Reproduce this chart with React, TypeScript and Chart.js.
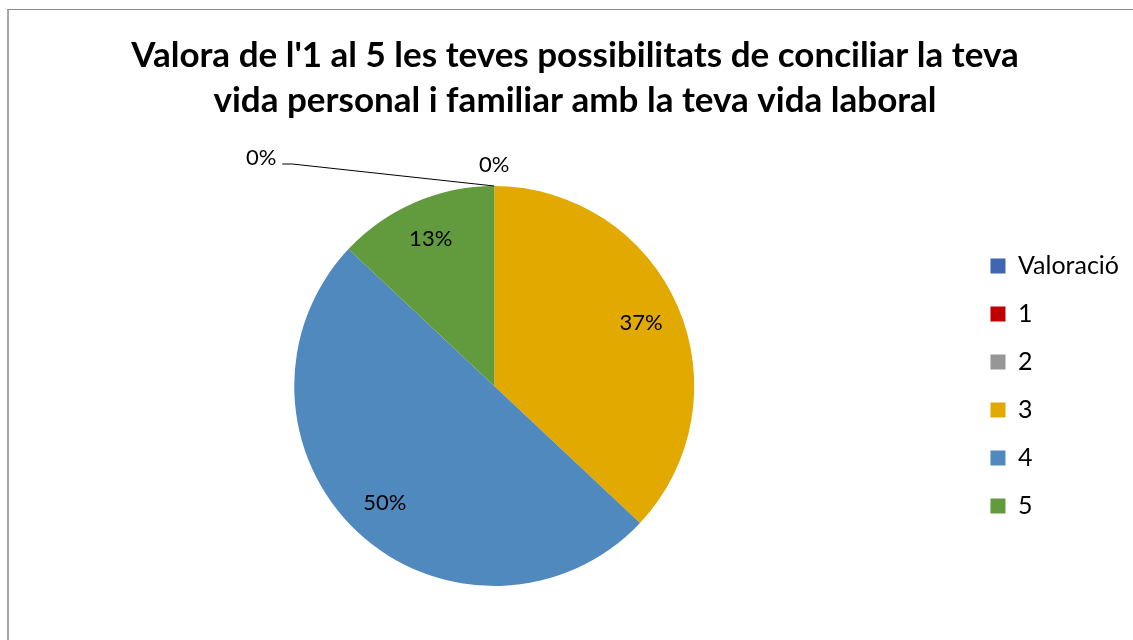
import React, { useEffect, useRef } from 'react';
import { Chart, registerables } from 'chart.js';

Chart.register(...registerables);

const TITLE_LINES = [
  "Valora de l'1 al 5 les teves possibilitats de conciliar la teva",
  'vida personal i familiar amb la teva vida laboral',
];
const CATEGORIES = ['Valoració', '1', '2', '3', '4', '5'];
const VALUES: (number | null)[] = [null, 0, 0, 37, 50, 13];
const COLORS = ['#3F66B0', '#C00000', '#969696', '#E2A900', '#4F89BD', '#629A3E'];

const FONT = 'Lato, "Open Sans", sans-serif';

const sliceLabels = {
  id: 'sliceLabels',
  afterDatasetsDraw(chart: any) {
    const meta = chart.getDatasetMeta(0);
    const data = chart.data.datasets[0].data as (number | null)[];
    const total = data.reduce((s: number, v) => s + (v ?? 0), 0);
    const ctx = chart.ctx as CanvasRenderingContext2D;
    ctx.save();
    ctx.font = `22px ${FONT}`;
    ctx.fillStyle = '#000';
    ctx.textAlign = 'center';
    ctx.textBaseline = 'middle';
    let zeroCount = 0;
    meta.data.forEach((arc: any, i: number) => {
      const v = data[i];
      if (v === null || v === undefined) return;
      const { x, y, startAngle, endAngle, outerRadius } = arc.getProps(
        ['x', 'y', 'startAngle', 'endAngle', 'outerRadius'],
        true
      );
      const txt = Math.round((v / total) * 100) + '%';
      if (v > 0) {
        const mid = (startAngle + endAngle) / 2;
        const d = outerRadius * 0.8;
        ctx.fillText(txt, x + Math.cos(mid) * d, y + Math.sin(mid) * d);
      } else {
        const top = y - outerRadius;
        if (zeroCount === 0) {
          ctx.fillText(txt, x, top - 21);
        } else {
          ctx.beginPath();
          ctx.moveTo(x, top);
          ctx.lineTo(x - 202, top - 22);
          ctx.lineTo(x - 212, top - 22);
          ctx.strokeStyle = '#000';
          ctx.lineWidth = 1;
          ctx.stroke();
          ctx.fillText(txt, x - 233, top - 28);
        }
        zeroCount++;
      }
    });
    ctx.restore();
  },
};

export default function App() {
  const ref = useRef<HTMLCanvasElement | null>(null);

  useEffect(() => {
    if (!ref.current) return;
    Chart.defaults.font.family = FONT;
    Chart.defaults.color = '#000';
    const chart = new Chart(ref.current, {
      type: 'pie',
      data: {
        labels: CATEGORIES,
        datasets: [
          {
            data: VALUES as any,
            backgroundColor: COLORS,
            borderWidth: 0,
          },
        ],
      },
      options: {
        responsive: false,
        animation: false,
        devicePixelRatio: 1,
        layout: { padding: { left: 11, right: 17, top: 0, bottom: 74 } },
        plugins: {
          title: {
            display: true,
            text: TITLE_LINES,
            color: '#000',
            font: { family: FONT, size: 35, weight: 'bold', lineHeight: 45 / 35 },
            padding: { top: 23, bottom: 63 },
          },
          legend: {
            position: 'right',
            fullSize: false,
            labels: {
              boxWidth: 15,
              boxHeight: 15,
              padding: 23,
              color: '#000',
              font: { family: FONT, size: 25 },
            },
          },
          tooltip: { enabled: false },
        },
      },
      plugins: [sliceLabels],
    });
    return () => chart.destroy();
  }, []);

  return (
    <div
      style={{
        position: 'fixed',
        left: 0,
        top: 0,
        width: 1133,
        height: 640,
        overflow: 'hidden',
        background: '#fff',
      }}
    >
      <div
        style={{
          position: 'absolute',
          left: 7,
          top: 9,
          width: 1200,
          height: 700,
          borderLeft: '2px solid #a6a6a6',
          borderTop: '1px solid #8c8c8c',
        }}
      />
      <canvas
        ref={ref}
        width={1136}
        height={650}
        style={{ position: 'absolute', left: 10, top: 10, width: 1136, height: 650 }}
      />
    </div>
  );
}
